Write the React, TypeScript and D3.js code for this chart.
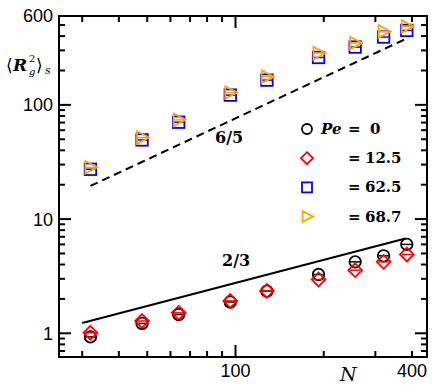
import React, { useRef, useEffect } from "react";
import * as d3 from "d3";

// chain lengths N
const chainLengths = [32, 48, 64, 96, 128, 192, 256, 320, 384];

// <Rg^2>_s for each Peclet number
const rgPe0 = [0.93, 1.22, 1.46, 1.88, 2.34, 3.27, 4.22, 4.77, 6.0];
const rgPe12 = [1.01, 1.28, 1.51, 1.92, 2.35, 2.96, 3.57, 4.22, 4.9];
const rgPe62 = [27.3, 49.3, 70.5, 121.7, 164.7, 260, 320.8, 392.6, 448.5];
const rgPe68 = [28.4, 51.7, 73.9, 128.2, 176.7, 284, 347.7, 439.5, 486];

// guide lines (power laws) : endpoints in N and <Rg^2>
const guide65N = [32, 387];
const guide65Val = [19.5, 385];
const guide23N = [30, 380];
const guide23Val = [1.23, 6.75];

const legendLabels = ["0", "12.5", "62.5", "68.7"];

const xMinorTicks = [30, 40, 50, 60, 70, 80, 90, 200, 300, 400];
const xMajorTicks = [100];
const xTickLabels = [100, 400];
const yMajorTicks = [1, 10, 100];
const yMinorTicks = [0.7, 0.8, 0.9, 2, 3, 4, 5, 6, 7, 8, 9, 20, 30, 40, 50, 60, 70, 80, 90, 200, 300, 400, 500];
const yTickLabels = [1, 10, 100, 600];

const App = () => {
  const svgRef = useRef<SVGSVGElement>(null);

  useEffect(() => {
    const svg = d3.select(svgRef.current);
    svg.selectAll("*").remove();

    const W = 439, H = 392;
    const left = 59, right = 427, top = 16, bottom = 357;

    const x = d3.scaleLog().domain([25, 450]).range([left, right]);
    const y = d3.scaleLog().domain([0.62, 600]).range([bottom, top]);

    svg.attr("width", W).attr("height", H);

    const g = svg.append("g");

    // guide lines
    const line = d3.line<[number, number]>().x(d => x(d[0])).y(d => y(d[1]));
    g.append("path")
      .attr("d", line(d3.zip(guide65N, guide65Val) as [number, number][]))
      .attr("fill", "none")
      .attr("stroke", "#000")
      .attr("stroke-width", 2)
      .attr("stroke-dasharray", "8,5");
    g.append("path")
      .attr("d", line(d3.zip(guide23N, guide23Val) as [number, number][]))
      .attr("fill", "none")
      .attr("stroke", "#000")
      .attr("stroke-width", 2);

    g.append("text")
      .attr("x", 215).attr("y", 143)
      .style("font-family", "DejaVu Serif")
      .style("font-weight", "bold")
      .style("font-size", "16px")
      .text("6/5");
    g.append("text")
      .attr("x", 222).attr("y", 266)
      .style("font-family", "DejaVu Serif")
      .style("font-weight", "bold")
      .style("font-size", "16px")
      .text("2/3");

    // marker shapes
    const drawMarker = (sel: any, kind: string, color: string, s: number) => {
      if (kind === "circle") {
        sel.append("circle").attr("r", s * 0.5).attr("fill", "none").attr("stroke", color).attr("stroke-width", 1.8);
      } else if (kind === "diamond") {
        const h = s * 0.6;
        sel.append("path").attr("d", `M0,${-h}L${h},0L0,${h}L${-h},0Z`).attr("fill", "none").attr("stroke", color).attr("stroke-width", 1.8);
      } else if (kind === "square") {
        const h = s * 0.5;
        sel.append("rect").attr("x", -h).attr("y", -h).attr("width", 2 * h).attr("height", 2 * h)
          .attr("fill", "none").attr("stroke", color).attr("stroke-width", 1.8);
      } else {
        const h = s * 0.55;
        sel.append("path").attr("d", `M${-h * 0.8},${-h}L${h * 1.1},0L${-h * 0.8},${h}Z`).attr("fill", "none").attr("stroke", color).attr("stroke-width", 1.8);
      }
    };

    const series = [
      { vals: rgPe0, kind: "circle", color: "#000000" },
      { vals: rgPe12, kind: "diamond", color: "#ff0000" },
      { vals: rgPe62, kind: "square", color: "#0000ff" },
      { vals: rgPe68, kind: "triangle", color: "#ffa500" },
    ];

    series.forEach(sr => {
      chainLengths.forEach((n, i) => {
        const m = g.append("g").attr("transform", `translate(${x(n)},${y(sr.vals[i])})`);
        drawMarker(m, sr.kind, sr.color, 11.5);
        m.append("line").attr("x1", -5).attr("x2", 5).attr("y1", 0).attr("y2", 0)
          .attr("stroke", sr.color).attr("stroke-width", 1.5);
      });
    });

    // frame
    g.append("rect")
      .attr("x", left).attr("y", top)
      .attr("width", right - left).attr("height", bottom - top)
      .attr("fill", "none").attr("stroke", "#000").attr("stroke-width", 2);

    const ticks = g.append("g").attr("stroke", "#000").attr("stroke-width", 2);
    const addX = (v: number, len: number) => {
      ticks.append("line").attr("x1", x(v)).attr("x2", x(v)).attr("y1", bottom).attr("y2", bottom - len);
      ticks.append("line").attr("x1", x(v)).attr("x2", x(v)).attr("y1", top).attr("y2", top + len);
    };
    const addY = (v: number, len: number) => {
      ticks.append("line").attr("y1", y(v)).attr("y2", y(v)).attr("x1", left).attr("x2", left + len);
      ticks.append("line").attr("y1", y(v)).attr("y2", y(v)).attr("x1", right).attr("x2", right - len);
    };
    xMinorTicks.forEach(v => addX(v, 6));
    xMajorTicks.forEach(v => addX(v, 12));
    yMinorTicks.forEach(v => addY(v, 6));
    yMajorTicks.forEach(v => addY(v, 12));

    // tick labels
    xTickLabels.forEach(v => {
      g.append("text")
        .attr("x", x(v)).attr("y", 377)
        .attr("text-anchor", "middle")
        .style("font-family", "Liberation Sans")
        .style("font-size", "18px")
        .text(v);
    });
    yTickLabels.forEach(v => {
      g.append("text")
        .attr("x", 53).attr("y", y(v))
        .attr("dy", "0.36em")
        .attr("text-anchor", "end")
        .style("font-family", "Liberation Sans")
        .style("font-size", "18px")
        .text(v);
    });

    // axis titles
    g.append("text")
      .attr("x", 340).attr("y", 381)
      .style("font-family", "DejaVu Serif")
      .style("font-style", "italic")
      .style("font-size", "19px")
      .text("N");

    const yl = g.append("g").style("font-family", "DejaVu Serif");
    yl.append("text").attr("x", 6).attr("y", 71).style("font-size", "17px").text("⟨");
    yl.append("text").attr("x", 13).attr("y", 71).style("font-size", "17px")
      .style("font-style", "italic").style("font-weight", "bold").text("R");
    yl.append("text").attr("x", 29).attr("y", 62).style("font-size", "10px").text("2");
    yl.append("text").attr("x", 29).attr("y", 75).style("font-size", "10px").style("font-style", "italic").text("g");
    yl.append("text").attr("x", 36).attr("y", 71).style("font-size", "17px").text("⟩");
    yl.append("text").attr("x", 45).attr("y", 74).style("font-size", "11px").style("font-style", "italic").text("s");

    // legend
    const legend = g.append("g");
    series.forEach((sr, i) => {
      const cy = 129 + i * 29.2;
      const m = legend.append("g").attr("transform", `translate(${307},${cy})`);
      drawMarker(m, sr.kind, sr.color, 10);
      legend.append("text")
        .attr("x", 348).attr("y", cy + 5)
        .style("font-family", "DejaVu Serif")
        .style("font-weight", "bold")
        .style("font-size", "15px")
        .text("=");
      legend.append("text")
        .attr("x", i === 0 ? 370 : 365).attr("y", cy + 5)
        .style("font-family", "DejaVu Serif")
        .style("font-weight", "bold")
        .style("font-size", "15px")
        .text(legendLabels[i]);
    });
    legend.append("text")
      .attr("x", 321).attr("y", 134)
      .style("font-family", "DejaVu Serif")
      .style("font-weight", "bold")
      .style("font-style", "italic")
      .style("font-size", "15px")
      .text("Pe");
  }, []);

  return (
    <svg
      ref={svgRef}
      style={{ position: "absolute", left: 0, top: 0, background: "#fff" }}
    ></svg>
  );
};

export default App;
